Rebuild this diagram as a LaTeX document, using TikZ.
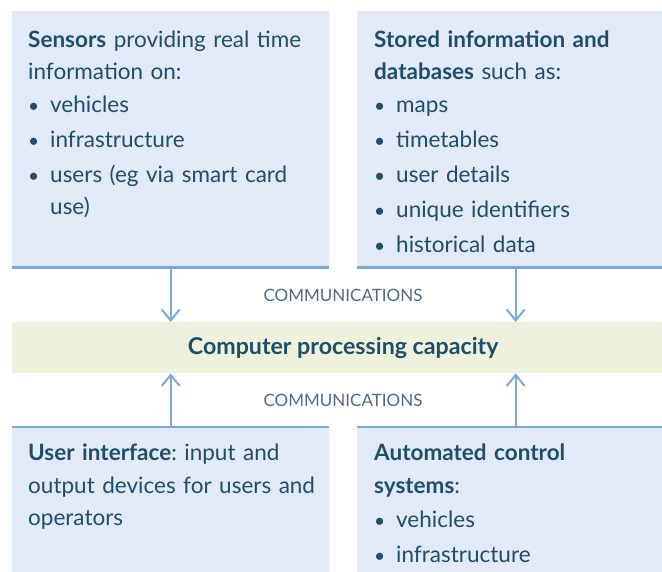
\documentclass[tikz,border=0pt]{standalone}
\usepackage{fontspec}
\setmainfont{Lato}
\usetikzlibrary{arrows.meta}
\definecolor{boxfill}{HTML}{E1EAF6}
\definecolor{edgeblue}{HTML}{7BA8DB}
\definecolor{bandfill}{HTML}{EEF2DC}
\definecolor{txt}{HTML}{1F4E6B}
\definecolor{comm}{HTML}{4C6B82}
\newcommand{\bul}[1]{\makebox[22pt][l]{\scalebox{0.85}{•}}#1}
\begin{document}
\frenchspacing
\begin{tikzpicture}[x=1pt,y=-1pt,
 panel/.style={rectangle, fill=boxfill, draw=none, minimum width=317pt, inner sep=0pt, anchor=north west},
 body/.style={anchor=north west, inner sep=0pt, text width=320pt, align=left, font=\fontsize{22.5}{32}\selectfont, text=txt},
 edgeline/.style={draw=edgeblue, line width=2.8pt},
 arr/.style={draw=edgeblue, line width=2pt, -{Straight Barb[length=11pt,width=18pt]}},
 commlabel/.style={font=\fontsize{17}{19}\selectfont, text=comm, inner sep=0pt}]
\useasboundingbox (0,0) rectangle (662,572);
\clip (0,0) rectangle (662,572);
% panels
\node[panel, minimum height=256pt] (s) at (12,11) {};
\node[panel, minimum height=256pt] (d) at (357,11) {};
\node[panel, minimum height=150pt] (u) at (12,427) {};
\node[panel, minimum height=150pt] (a) at (357,427) {};
% band
\node[rectangle, fill=bandfill, minimum width=662pt, minimum height=51pt, inner sep=0pt, anchor=north west, text=txt, font=\bfseries\fontsize{23.2}{26}\selectfont] (c) at (12,322) {Computer processing capacity};
% edge lines
\draw[edgeline] (s.south west) -- (s.south east);
\draw[edgeline] (d.south west) -- (d.south east);
\draw[edgeline] (u.north west) -- (u.north east);
\draw[edgeline] (a.north west) -- (a.north east);
% arrows
\draw[arr] (s.south) -- (c.north -| s.south);
\draw[arr] (d.south) -- (c.north -| d.south);
\draw[arr] (u.north) -- (c.south -| u.north);
\draw[arr] (a.north) -- (c.south -| a.north);
% labels
\node[commlabel] (cm1) at (343,295) {COMMUNICATIONS};
\node[commlabel] (cm2) at (343,400) {COMMUNICATIONS};
% texts
\node[body] (st) at (28,30.5) {\textbf{Sensors} providing real time\\ information on:\\[1pt] \bul{vehicles}\\[3pt] \bul{infrastructure}\\[3pt] \bul{users (eg via smart card}\\ \hspace*{22pt}use)};
\node[body] (dt) at (374,30.5) {\textbf{Stored information and}\\ \textbf{databases} such as:\\[1pt] \bul{maps}\\[3pt] \bul{timetables}\\[3pt] \bul{user details}\\[3pt] \bul{unique identifiers}\\[3pt] \bul{historical data}};
\node[body] (ut) at (28,443.5) {\textbf{User interface}: input and\\[1pt] output devices for users and\\ operators};
\node[body] (at) at (374,443.5) {\textbf{Automated control}\\[1pt] \textbf{systems}:\\[2pt] \bul{vehicles}\\[3pt] \bul{infrastructure}};
\end{tikzpicture}
\end{document}
